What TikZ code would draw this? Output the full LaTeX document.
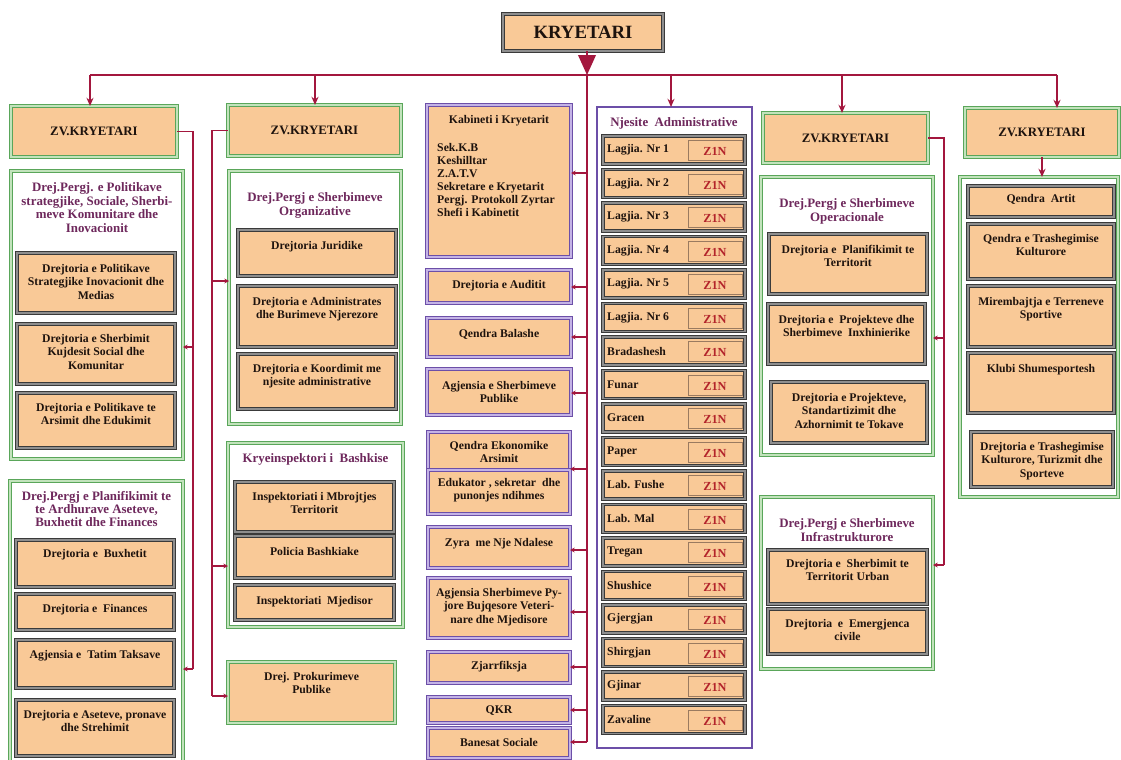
\documentclass[tikz,border=0pt]{standalone}
\usepackage{fontspec}
\setmainfont{Liberation Serif}
\usetikzlibrary{arrows.meta}
\definecolor{Peach}{HTML}{F9C997}
\definecolor{Conn}{HTML}{A3173E}
\definecolor{GreenB}{HTML}{5AA65A}
\definecolor{GreenL}{HTML}{C2E3BC}
\definecolor{GrayD}{HTML}{3A3A3A}
\definecolor{GrayM}{HTML}{8E8E8E}
\definecolor{PurpD}{HTML}{6C4FA8}
\definecolor{PurpL}{HTML}{C4B3E6}
\definecolor{TitleC}{HTML}{6E285C}
\definecolor{TextC}{HTML}{1E130E}
\definecolor{ZRed}{HTML}{B3242B}
\definecolor{ZBord}{HTML}{9A7A60}
\tikzset{
 box/.style={anchor=north west, inner sep=0pt, outer sep=0pt, fill=Peach},
 gbox/.style={box, draw=GreenB, double=GreenL, double distance=1.2pt, line width=0.7pt},
 gframe/.style={gbox, fill=white},
 graybox/.style={box, draw=GrayD, double=GrayM, double distance=1.5pt, line width=0.6pt},
 pbox/.style={box, draw=PurpD, double=PurpL, double distance=1.2pt, line width=0.7pt},
 njbox/.style={box, fill=white, draw=PurpD, line width=1pt},
 zbox/.style={box, draw=ZBord, line width=0.6pt},
 txt/.style={anchor=north, inner sep=0pt, align=center, text=TextC, font=\bfseries\fontsize{10}{11.5}\selectfont},
 ttl/.style={txt, text=TitleC, font=\bfseries\fontsize{11}{11.4}\selectfont},
 zvtxt/.style={inner sep=0pt, text=TextC, font=\bfseries\fontsize{11}{13}\selectfont},
 rtxt/.style={anchor=west, inner sep=0pt, text=TextC, font=\bfseries\fontsize{10}{12}\selectfont},
 ztxt/.style={inner sep=0pt, text=ZRed, font=\bfseries\fontsize{10.5}{12}\selectfont},
 conn/.style={draw=Conn, line width=1.5pt},
 arr/.style={conn, -{Stealth[length=7pt,width=6pt]}},
 sarr/.style={conn, line width=1.2pt, -{Stealth[length=4pt,width=4pt]}},
 bigarr/.style={conn, -{Triangle[length=17pt,width=15pt]}}
}
\newcommand{\R}[6]{\node[#1, minimum width={(#5-#3)*0.03cm}, minimum height={(#6-#4)*0.03cm}] (#2) at (#3,#4) {};}
\newcommand{\T}[5]{\node[#1] (#2) at (#3,#4-4.2) {#5};}
\begin{document}
\begin{tikzpicture}[x=0.03cm,y=-0.03cm]
\useasboundingbox (0,0) rectangle (1121,760);
\fill[white] (0,0) rectangle (1121,760);

% ---- top
\R{graybox}{kry}{503}{14}{663}{51}
\node[inner sep=0pt, text=TextC, font=\bfseries\fontsize{16}{18}\selectfont] (kryt) at (583,32.5) {KRYETARI};
\coordinate (m0) at (587,75);
\coordinate (mEnd) at (587,742);
\coordinate (hL) at (90,75);
\coordinate (h2) at (315,75);
\coordinate (h4) at (671,75);
\coordinate (h5) at (842,75);
\coordinate (hR) at (1057,75);

% ---- column 1
\R{gbox}{zv1}{11}{106}{177}{157}
\node[zvtxt] (zv1t) at (94,131.5) {ZV.KRYETARI};
\R{gframe}{g1}{11}{171}{183}{459}
\T{ttl}{g1t}{97}{187}{Drej.Pergj. e Politikave\\strategjike, Sociale, Sherbi-\\meve Komunitare dhe\\Inovacionit}
\R{graybox}{b11}{17}{253}{175}{313}
\T{txt}{b11t}{96}{268}{Drejtoria e Politikave\\Strategjike Inovacionit dhe\\Medias}
\R{graybox}{b12}{17}{324}{175}{384}
\T{txt}{b12t}{96}{338}{Drejtoria e Sherbimit\\Kujdesit Social dhe\\Komunitar}
\R{graybox}{b13}{17}{393}{175}{448}
\T{txt}{b13t}{96}{407}{Drejtoria e Politikave te\\Arsimit dhe Edukimit}
\R{gframe}{g2}{10}{481}{183}{766}
\T{ttl}{g2t}{96.5}{495}{Drej.Pergj e Planifikimit te\\te Ardhurave Aseteve,\\Buxhetit dhe Finances}
\R{graybox}{b21}{16}{540}{174}{587}
\T{txt}{b21t}{95}{553}{Drejtoria e\ \ Buxhetit}
\R{graybox}{b22}{16}{594}{174}{630}
\T{txt}{b22t}{95}{608}{Drejtoria e\ \ Finances}
\R{graybox}{b23}{16}{640}{174}{688}
\T{txt}{b23t}{95}{654}{Agjensia e\ \ Tatim Taksave}
\R{graybox}{b24}{16}{700}{174}{756}
\T{txt}{b24t}{95}{714}{Drejtoria e Aseteve, pronave\\dhe Strehimit}

% ---- column 2
\R{gbox}{zv2}{228}{105}{401}{156}
\node[zvtxt] (zv2t) at (314.5,130.5) {ZV.KRYETARI};
\R{gframe}{g3}{229}{171}{401}{424}
\T{ttl}{g3t}{315}{197}{Drej.Pergj e Sherbimeve\\Organizative}
\R{graybox}{b31}{238}{230}{396}{276}
\T{txt}{b31t}{317}{245}{Drejtoria Juridike}
\R{graybox}{b32}{238}{286}{396}{347}
\T{txt}{b32t}{317}{301}{Drejtoria e Administrates\\dhe Burimeve Njerezore}
\R{graybox}{b33}{238}{354}{396}{409}
\T{txt}{b33t}{317}{368}{Drejtoria e Koordimit me\\njesite administrative}
\R{gframe}{g4}{228}{443}{403}{627}
\T{ttl}{g4t}{315.5}{458}{Kryeinspektori i\ \ Bashkise}
\R{graybox}{b41}{235}{482}{394}{532}
\T{txt}{b41t}{314.5}{496}{Inspektoriati i Mbrojtjes\\Territorit}
\R{graybox}{b42}{235}{536}{394}{578}
\T{txt}{b42t}{314.5}{551}{Policia Bashkiake}
\R{graybox}{b43}{235}{585}{394}{620}
\T{txt}{b43t}{314.5}{600}{Inspektoriati\ \ Mjedisor}
\R{gbox}{prok}{228}{662}{395}{723}
\T{txt}{prokt}{311.5}{676}{Drej. Prokurimeve\\Publike}

% ---- column 3
\R{pbox}{kab}{427}{105}{571}{257}
\T{txt}{kabt}{499}{119}{Kabineti i Kryetarit}
\node[txt, anchor=north west, align=left, font=\bfseries\fontsize{10}{11.1}\selectfont] (kabl) at (437,143) {Sek.K.B\\Keshilltar\\Z.A.T.V\\Sekretare e Kryetarit\\Pergj. Protokoll Zyrtar\\Shefi i Kabinetit};
\R{pbox}{aud}{427}{270}{571}{303}
\T{txt}{audt}{499}{284}{Drejtoria e Auditit}
\R{pbox}{bal}{427}{318}{571}{357}
\T{txt}{balt}{499}{333}{Qendra Balashe}
\R{pbox}{agj}{427}{369}{571}{415}
\T{txt}{agjt}{499}{385}{Agjensia e Sherbimeve\\Publike}
\R{pbox}{qea}{428}{432}{570}{470}
\T{txt}{qeat}{499}{445}{Qendra Ekonomike\\Arsimit}
\R{pbox}{edu}{428}{470}{570}{514}
\T{txt}{edut}{499}{482}{Edukator , sekretar\ \ dhe\\punonjes ndihmes}
\R{pbox}{zyr}{428}{527}{570}{568}
\T{txt}{zyrt}{499}{542}{Zyra\ \ me Nje Ndalese}
\R{pbox}{apy}{428}{578}{570}{638}
\T{txt}{apyt}{499}{592}{Agjensia Sherbimeve Py-\\jore Bujqesore Veteri-\\nare dhe Mjedisore}
\R{pbox}{zja}{428}{652}{570}{683}
\T{txt}{zjat}{499}{665}{Zjarrfiksja}
\R{pbox}{qkr}{428}{697}{570}{723}
\T{txt}{qkrt}{499}{710}{QKR}
\R{pbox}{ban}{428}{728}{570}{758}
\T{txt}{bant}{499}{742}{Banesat Sociale}

% ---- column 4
\R{njbox}{nj}{597}{107}{752}{748}
\T{ttl}{njt}{674}{122}{Njesite\ \ Administrative}
\foreach \lab [count=\i from 0] in {Lagjia. Nr 1,Lagjia. Nr 2,Lagjia. Nr 3,Lagjia. Nr 4,Lagjia. Nr 5,Lagjia. Nr 6,Bradashesh,Funar,Gracen,Paper,Lab. Fushe,Lab. Mal,Tregan,Shushice,Gjergjan,Shirgjan,Gjinar,Zavaline}{
  \pgfmathsetmacro{\yt}{136+33.5*\i}
  \node[graybox, minimum width=142*0.03cm, minimum height=28*0.03cm] (row\i) at (603,\yt) {};
  \node[zbox, minimum width=54*0.03cm, minimum height=20*0.03cm] (zb\i) at (688,\yt+4.5) {};
  \node[rtxt] (rl\i) at (607,\yt+14) {\lab};
  \node[ztxt] (zt\i) at (715,\yt+15.5) {Z1N};
}

% ---- column 5
\R{gbox}{zv4}{763}{113}{928}{163}
\node[zvtxt] (zv4t) at (845.5,138) {ZV.KRYETARI};
\R{gframe}{g5}{761}{177}{933}{455}
\T{ttl}{g5t}{847}{203}{Drej.Pergj e Sherbimeve\\Operacionale}
\R{graybox}{b51}{769}{234}{927}{294}
\T{txt}{b51t}{848}{249}{Drejtoria e\ \ Planifikimit te\\Territorit}
\R{graybox}{b52}{768}{304}{925}{364}
\T{txt}{b52t}{846.5}{319}{Drejtoria e\ \ Projekteve dhe\\Sherbimeve\ \ Inxhinierike}
\R{graybox}{b53}{771}{382}{927}{443}
\T{txt}{b53t}{849}{397}{Drejtoria e Projekteve,\\Standartizimit dhe\\Azhornimit te Tokave}
\R{gframe}{g6}{761}{497}{933}{669}
\T{ttl}{g6t}{847}{523}{Drej.Pergj e Sherbimeve\\Infrastrukturore}
\R{graybox}{b61}{768}{550}{927}{604}
\T{txt}{b61t}{847.5}{563}{Drejtoria e\ \ Sherbimit te\\Territorit Urban}
\R{graybox}{b62}{768}{609}{927}{654}
\T{txt}{b62t}{847.5}{623}{Drejtoria\ \ e\ \ Emergjenca\\civile}

% ---- column 6
\R{gbox}{zv5}{965}{108}{1119}{157}
\node[zvtxt] (zv5t) at (1042,132.5) {ZV.KRYETARI};
\R{gframe}{g7}{960}{177}{1118}{497}
\R{graybox}{b71}{968}{186}{1114}{217}
\T{txt}{b71t}{1041}{198}{Qendra\ \ Artit}
\R{graybox}{b72}{968}{224}{1114}{279}
\T{txt}{b72t}{1041}{238}{Qendra e Trashegimise\\Kulturore}
\R{graybox}{b73}{968}{286}{1114}{347}
\T{txt}{b73t}{1041}{301}{Mirembajtja e Terreneve\\Sportive}
\R{graybox}{b74}{968}{353}{1114}{413}
\T{txt}{b74t}{1041}{368}{Klubi Shumesportesh}
\R{graybox}{b75}{971}{432}{1113}{487}
\T{txt}{b75t}{1042}{446}{Drejtoria e Trashegimise\\Kulturore, Turizmit dhe\\Sporteve}

% ---- connectors
\draw[conn] (hL) -- (hR);
\draw[conn] (m0) -- (mEnd);
\draw[bigarr] (kry.south -| m0) -- (m0);
\draw[arr] (hL) -- (hL |- zv1.north);
\draw[arr] (h2) -- (h2 |- zv2.north);
\draw[arr] (h4) -- (h4 |- nj.north);
\draw[arr] (h5) -- (h5 |- zv4.north);
\draw[arr] (hR) -- (hR |- zv5.north);
\draw[arr] (zv5.south) -- (zv5.south |- g7.north);

% column 1 connectors
\coordinate (j11) at (193,347);
\coordinate (j12) at (193,669);
\draw[conn] (zv1.east) -| (j12);
\draw[sarr] (j11) -- (j11 -| g1.east);
\draw[sarr] (j12) -- (j12 -| g2.east);

% column 2 connectors
\coordinate (j21) at (212,281);
\coordinate (j22) at (212,566);
\coordinate (j23) at (212,696);
\draw[conn] (zv2.west) -| (j23);
\draw[sarr] (j21) -- (j21 -| g3.west);
\draw[sarr] (j22) -- (j22 -| g4.west);
\draw[sarr] (j23) -- (j23 -| prok.west);

% column 3 connectors
\foreach \nm/\yy in {kab/173,aud/287,bal/337,agj/393,edu/469,zyr/550,apy/612,zja/667,qkr/710,ban/742}{
  \coordinate (mj\nm) at (587,\yy);
  \draw[sarr] (mj\nm) -- (mj\nm -| \nm.east);
}

% column 5 connectors
\coordinate (j51) at (944,338);
\coordinate (j52) at (944,565);
\draw[conn] (zv4.east) -| (j52);
\draw[sarr] (j51) -- (j51 -| g5.east);
\draw[sarr] (j52) -- (j52 -| g6.east);
\end{tikzpicture}
\end{document}
